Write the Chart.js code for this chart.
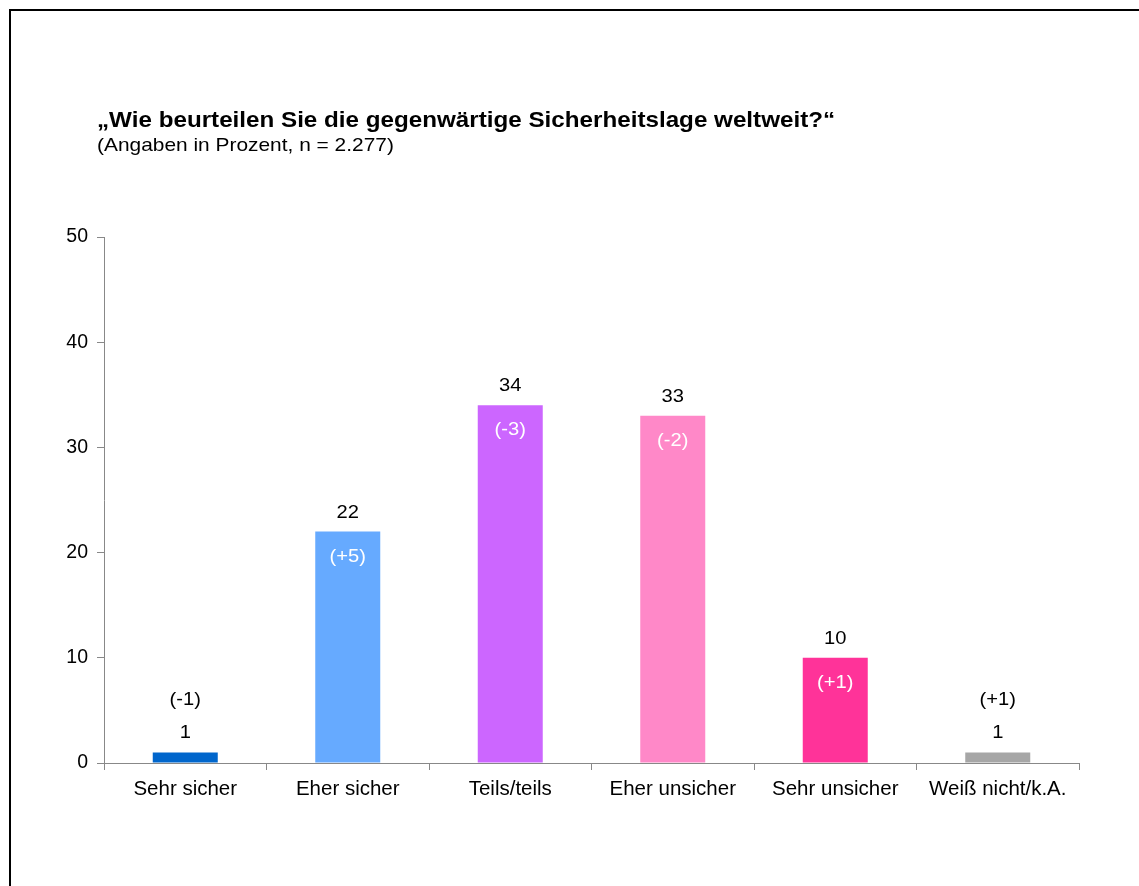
<!DOCTYPE html>
<html>
<head>
<meta charset="utf-8">
<script src="https://cdn.jsdelivr.net/npm/chart.js@4/dist/chart.umd.min.js"></script>
<style>
    html, body { margin: 0; padding: 0; background: #fff; overflow: hidden; }
    #frame {
        position: absolute; left: 9px; top: 9px; width: 1200px; height: 900px;
        border-left: 2px solid #000; border-top: 2px solid #000; box-sizing: border-box;
    }
    #wrap { position: absolute; left: 0; top: 0; width: 1139px; height: 886px; }
</style>
</head>
<body>
<div id="frame"></div>
<div id="wrap"><canvas id="chart"></canvas></div>
<script>
const categories = ['Sehr sicher', 'Eher sicher', 'Teils/teils', 'Eher unsicher', 'Sehr unsicher', 'Weiß nicht/k.A.'];
const values = [1, 22, 34, 33, 10, 1];
const changes = ['(-1)', '(+5)', '(-3)', '(-2)', '(+1)', '(+1)'];
const barColors = ['#0066CC', '#66AAFF', '#CC66FF', '#FF88C8', '#FF3399', '#A6A6A6'];
const yTicks = [0, 10, 20, 30, 40, 50];

const title = '\u201EWie beurteilen Sie die gegenw\u00E4rtige Sicherheitslage weltweit?\u201C';
const subtitle = '(Angaben in Prozent, n = 2.277)';

const FONT = 'Arial, "Liberation Sans", sans-serif';

// Text etwas in die Breite gezogen, wie im Original
function wideText(ctx, text, x, y, sx) {
    ctx.save();
    ctx.translate(x, y);
    ctx.scale(sx, 1);
    ctx.fillText(text, 0, 0);
    ctx.restore();
}

// Titel und Datenbeschriftungen
const labelPlugin = {
    id: 'labels',
    afterDraw(chart) {
        const ctx = chart.ctx;
        ctx.save();
        ctx.fillStyle = '#000';
        ctx.textAlign = 'left';
        ctx.textBaseline = 'alphabetic';
        ctx.font = 'bold 22px ' + FONT;
        wideText(ctx, title, 97, 127, 1.1);
        ctx.font = '19px ' + FONT;
        wideText(ctx, subtitle, 97, 151, 1.1);

        const meta = chart.getDatasetMeta(0);
        ctx.textAlign = 'center';
        ctx.textBaseline = 'middle';
        ctx.font = '18px ' + FONT;
        meta.data.forEach((bar, i) => {
            const top = bar.y;
            ctx.fillStyle = '#000';
            wideText(ctx, String(values[i]), bar.x, top - 19, 1.12);
            if (values[i] >= 5) {
                ctx.fillStyle = '#fff';
                wideText(ctx, changes[i], bar.x, top + 25, 1.12);
            } else {
                ctx.fillStyle = '#000';
                wideText(ctx, changes[i], bar.x, top - 52, 1.12);
            }
        });
        ctx.restore();
    }
};

new Chart(document.getElementById('chart'), {
    type: 'bar',
    data: {
        labels: categories,
        datasets: [{
            data: values,
            backgroundColor: barColors,
            borderWidth: 0,
            categoryPercentage: 1,
            barPercentage: 0.4
        }]
    },
    options: {
        responsive: true,
        maintainAspectRatio: false,
        animation: false,
        layout: { padding: { left: 0, right: 60, top: 237, bottom: 0 } },
        plugins: {
            legend: { display: false },
            tooltip: { enabled: false }
        },
        scales: {
            x: {
                afterFit: s => { s.height = 123; },
                grid: { drawOnChartArea: false, tickLength: 7, color: '#888', offset: true },
                border: { color: '#888' },
                ticks: { color: '#000', font: { family: FONT, size: 20.5 }, padding: 7 }
            },
            y: {
                min: 0,
                max: 50,
                afterFit: s => { s.width = 104; },
                afterBuildTicks: s => { s.ticks = yTicks.map(v => ({ value: v })); },
                grid: { drawOnChartArea: false, tickLength: 7, color: '#888' },
                border: { color: '#888' },
                ticks: { color: '#000', font: { family: FONT, size: 19.5 }, padding: 9 }
            }
        }
    },
    plugins: [labelPlugin]
});
</script>
</body>
</html>
